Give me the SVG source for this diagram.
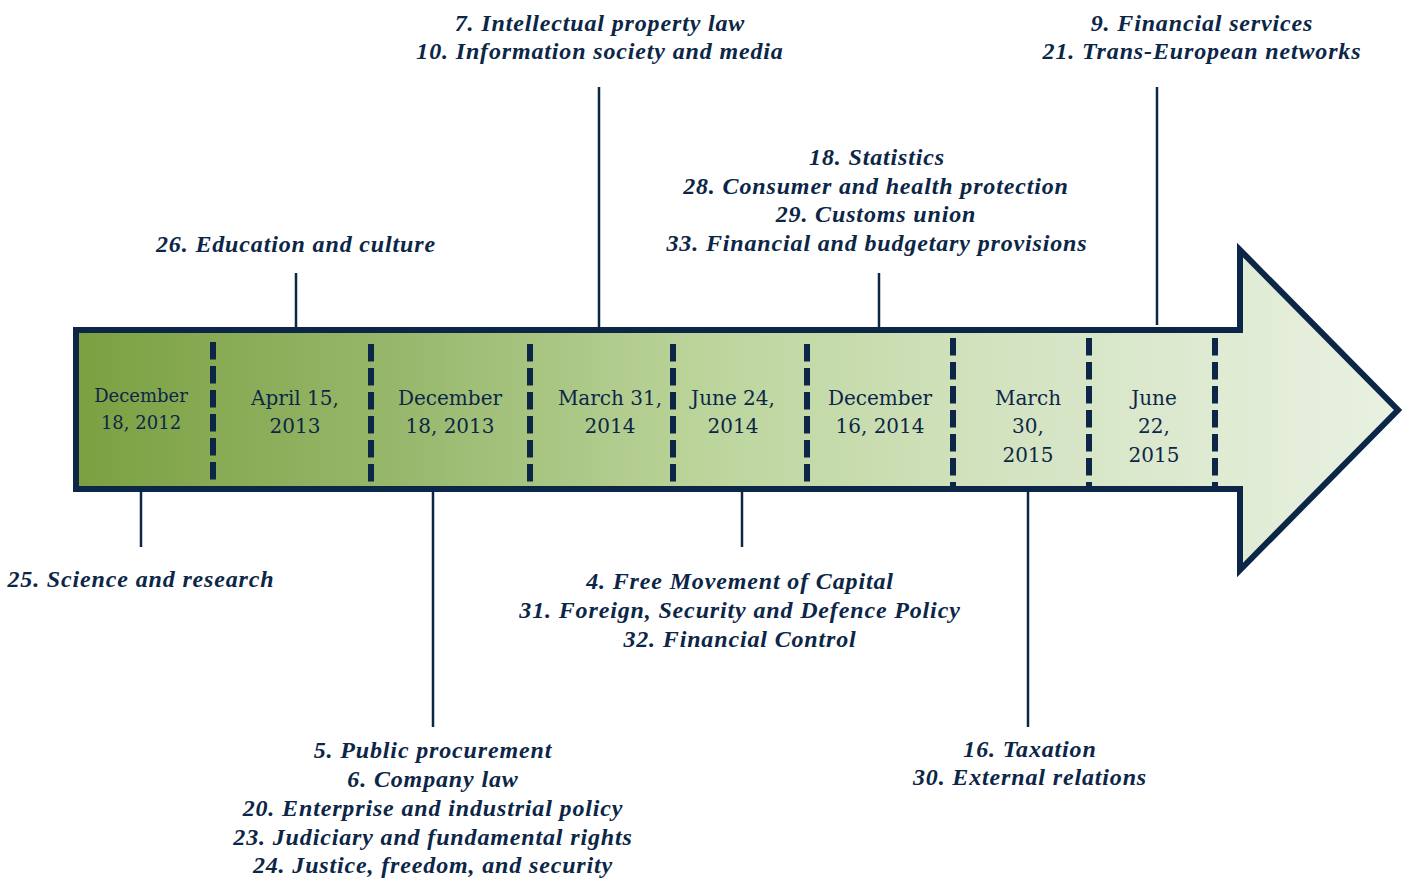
<svg xmlns="http://www.w3.org/2000/svg" width="1405" height="878" viewBox="0 0 1405 878">
<defs>
<linearGradient id="g" gradientUnits="userSpaceOnUse" x1="76" y1="0" x2="1398" y2="0">
<stop offset="0" stop-color="#7ba041"/>
<stop offset="0.25" stop-color="#98b86d"/>
<stop offset="0.48" stop-color="#bcd59c"/>
<stop offset="0.7" stop-color="#d3e3c0"/>
<stop offset="1" stop-color="#e9f1e2"/>
</linearGradient>
<style>
.lbl{font-family:"Liberation Serif","Times New Roman",serif;font-weight:bold;font-style:italic;font-size:24px;letter-spacing:0.85px;fill:#0c2647;text-anchor:middle}
.dt{font-family:"DejaVu Serif","Liberation Serif",serif;font-size:20px;fill:#0c2647;text-anchor:middle}
.div{stroke:#0c2647;stroke-width:6;stroke-dasharray:17.5 6.5}
.con{stroke:#0c2647;stroke-width:2.5;fill:none}
</style>
</defs>
<rect width="1405" height="878" fill="#fff"/>
<g id="arrow">
<path d="M76,330 H1240 V250 L1398,410 L1240,570 V489 H76 Z" fill="url(#g)" stroke="#0c2647" stroke-width="6"/>
<line class="div" x1="213" y1="342" x2="213" y2="489"/>
<line class="div" x1="371" y1="344" x2="371" y2="489"/>
<line class="div" x1="530" y1="344" x2="530" y2="489"/>
<line class="div" x1="673" y1="344" x2="673" y2="489"/>
<line class="div" x1="807" y1="344" x2="807" y2="489"/>
<line class="div" x1="953" y1="338" x2="953" y2="489"/>
<line class="div" x1="1089" y1="338" x2="1089" y2="489"/>
<line class="div" x1="1215" y1="338" x2="1215" y2="489"/>
</g>
<g id="connectors">
<line class="con" x1="141" y1="489" x2="141" y2="547"/>
<line class="con" x1="296" y1="273" x2="296" y2="330"/>
<line class="con" x1="433" y1="489" x2="433" y2="727"/>
<line class="con" x1="599" y1="87" x2="599" y2="330"/>
<line class="con" x1="742" y1="489" x2="742" y2="547"/>
<line class="con" x1="879" y1="273" x2="879" y2="330"/>
<line class="con" x1="1028" y1="489" x2="1028" y2="727"/>
<line class="con" x1="1157" y1="87" x2="1157" y2="325"/>
</g>
<g id="d1"><text class="dt" style="font-size:18px" x="141" y="402">December</text><text class="dt" style="font-size:18px" x="141" y="429">18, 2012</text></g>
<g id="d2"><text class="dt" x="295" y="405">April 15,</text><text class="dt" x="295" y="433">2013</text></g>
<g id="d3"><text class="dt" x="450" y="405">December</text><text class="dt" x="450" y="433">18, 2013</text></g>
<g id="d4"><text class="dt" x="610" y="405">March 31,</text><text class="dt" x="610" y="433">2014</text></g>
<g id="d5"><text class="dt" x="733" y="405">June 24,</text><text class="dt" x="733" y="433">2014</text></g>
<g id="d6"><text class="dt" x="880" y="405">December</text><text class="dt" x="880" y="433">16, 2014</text></g>
<g id="d7"><text class="dt" x="1028" y="405">March</text><text class="dt" x="1028" y="433">30,</text><text class="dt" x="1028" y="462">2015</text></g>
<g id="d8"><text class="dt" x="1154" y="405">June</text><text class="dt" x="1154" y="433">22,</text><text class="dt" x="1154" y="462">2015</text></g>
<g id="l7"><text class="lbl" x="600" y="31">7. Intellectual property law</text><text class="lbl" x="600" y="59">10. Information society and media</text></g>
<g id="l9"><text class="lbl" x="1202" y="31">9. Financial services</text><text class="lbl" x="1202" y="59">21. Trans-European networks</text></g>
<g id="l18"><text class="lbl" x="877" y="165">18. Statistics</text><text class="lbl" x="876" y="194">28. Consumer and health protection</text><text class="lbl" x="876" y="222">29. Customs union</text><text class="lbl" x="877" y="251">33. Financial and budgetary provisions</text></g>
<g id="l26"><text class="lbl" x="296" y="252">26. Education and culture</text></g>
<g id="l25"><text class="lbl" x="141" y="587">25. Science and research</text></g>
<g id="l4"><text class="lbl" x="740" y="589">4. Free Movement of Capital</text><text class="lbl" x="740" y="618">31. Foreign, Security and Defence Policy</text><text class="lbl" x="740" y="647">32. Financial Control</text></g>
<g id="l5"><text class="lbl" x="433" y="758">5. Public procurement</text><text class="lbl" x="433" y="787">6. Company law</text><text class="lbl" x="433" y="816">20. Enterprise and industrial policy</text><text class="lbl" x="433" y="845">23. Judiciary and fundamental rights</text><text class="lbl" x="433" y="873">24. Justice, freedom, and security</text></g>
<g id="l16"><text class="lbl" x="1030" y="757">16. Taxation</text><text class="lbl" x="1030" y="785">30. External relations</text></g>
</svg>
